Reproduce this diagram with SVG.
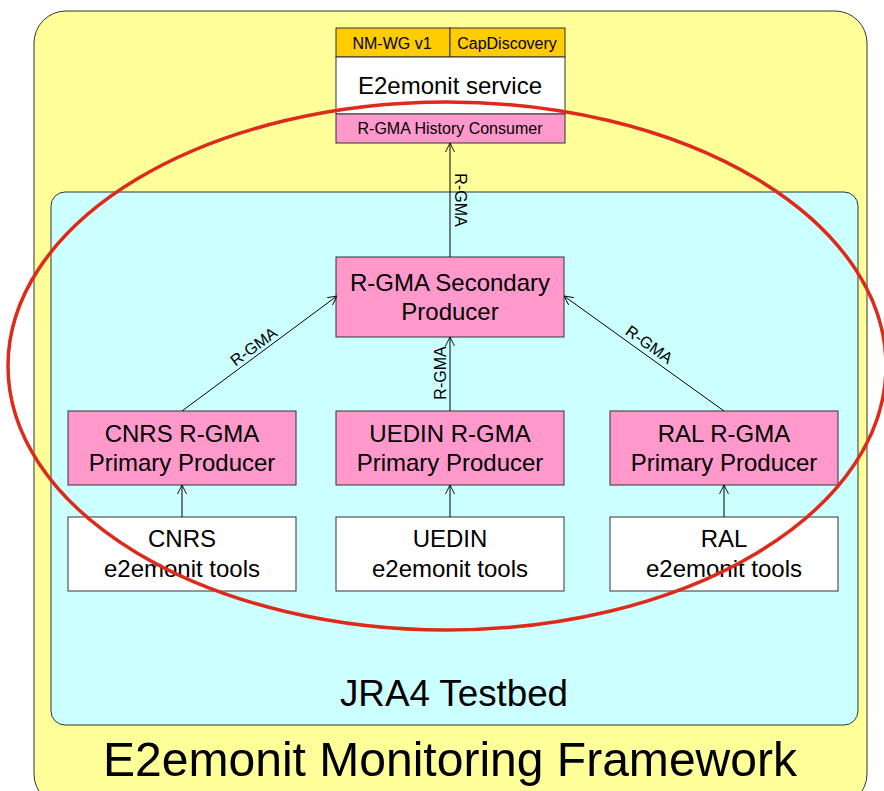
<svg xmlns="http://www.w3.org/2000/svg" width="884" height="791" viewBox="0 0 884 791">
<style>
.t{font-family:"Liberation Sans",Arial,sans-serif;fill:#000;text-anchor:middle}
.n{font-size:24px}
.s{font-size:16px}
.l{font-size:16px}
.box{stroke:#333;stroke-width:1}
.pink{fill:#FF99CC}
.white{fill:#fff}
.gold{fill:#FFCC00}
.c{stroke:#000;stroke-width:1;fill:none;marker-end:url(#arr)}
</style>
<defs>
<marker id="arr" viewBox="0 0 10 10" refX="10" refY="5" markerWidth="9" markerHeight="10" markerUnits="userSpaceOnUse" orient="auto">
<path d="M0,0 L10,5 L0,10" fill="none" stroke="#000" stroke-width="1"/>
</marker>
</defs>
<g id="framework">
<rect x="34" y="11" width="833" height="795" rx="32" fill="#FFFF99" stroke="#333" stroke-width="1"/>
<text class="t" x="450" y="776" font-size="48" textLength="694" lengthAdjust="spacingAndGlyphs">E2emonit Monitoring Framework</text>
</g>
<g id="testbed">
<rect x="51" y="192" width="807" height="533" rx="14" fill="#CCFFFF" stroke="#333" stroke-width="1"/>
<text class="t" x="454" y="706" font-size="36" textLength="228" lengthAdjust="spacingAndGlyphs">JRA4 Testbed</text>
</g>
<g id="service">
<rect class="box gold" x="336" y="28" width="114" height="29"/>
<rect class="box gold" x="450" y="28" width="115" height="29"/>
<rect class="box white" x="336" y="57" width="229" height="57"/>
<rect class="box pink" x="336" y="114" width="229" height="29"/>
<text class="t s" x="392" y="49">NM-WG v1</text>
<text class="t s" x="507" y="49">CapDiscovery</text>
<text class="t n" x="450" y="94">E2emonit service</text>
<text class="t s" x="450" y="134">R-GMA History Consumer</text>
</g>
<g id="secondary">
<rect class="box pink" x="336" y="257" width="228" height="80"/>
<text class="t n" x="450" y="291">R-GMA Secondary</text>
<text class="t n" x="450" y="320">Producer</text>
</g>
<g id="cnrs-pp">
<rect class="box pink" x="68" y="411" width="228" height="74"/>
<text class="t n" x="182" y="442">CNRS R-GMA</text>
<text class="t n" x="182" y="471">Primary Producer</text>
</g>
<g id="uedin-pp">
<rect class="box pink" x="336" y="411" width="228" height="74"/>
<text class="t n" x="450" y="442">UEDIN R-GMA</text>
<text class="t n" x="450" y="471">Primary Producer</text>
</g>
<g id="ral-pp">
<rect class="box pink" x="610" y="411" width="228" height="74"/>
<text class="t n" x="724" y="442">RAL R-GMA</text>
<text class="t n" x="724" y="471">Primary Producer</text>
</g>
<g id="cnrs-tools">
<rect class="box white" x="68" y="517" width="228" height="74"/>
<text class="t n" x="182" y="547">CNRS</text>
<text class="t n" x="182" y="577">e2emonit tools</text>
</g>
<g id="uedin-tools">
<rect class="box white" x="336" y="517" width="228" height="74"/>
<text class="t n" x="450" y="547">UEDIN</text>
<text class="t n" x="450" y="577">e2emonit tools</text>
</g>
<g id="ral-tools">
<rect class="box white" x="610" y="517" width="228" height="74"/>
<text class="t n" x="724" y="547">RAL</text>
<text class="t n" x="724" y="577">e2emonit tools</text>
</g>
<g id="connectors">
<line class="c" x1="450" y1="257" x2="450" y2="143"/>
<line class="c" x1="450" y1="411" x2="450" y2="337"/>
<line class="c" x1="182" y1="411" x2="337" y2="296"/>
<line class="c" x1="724" y1="411" x2="564" y2="296"/>
<line class="c" x1="182" y1="517" x2="182" y2="485"/>
<line class="c" x1="450" y1="517" x2="450" y2="485"/>
<line class="c" x1="724" y1="517" x2="724" y2="485"/>
<text class="t l" transform="translate(455,200) rotate(90)">R-GMA</text>
<text class="t l" transform="translate(446,373) rotate(-90)">R-GMA</text>
<text class="t l" transform="translate(257,351) rotate(-36.5)">R-GMA</text>
<text class="t l" transform="translate(646,349) rotate(35.7)">R-GMA</text>
</g>
<ellipse cx="447" cy="366" rx="439" ry="264" fill="none" stroke="#DD2A1B" stroke-width="3.5"/>
</svg>
